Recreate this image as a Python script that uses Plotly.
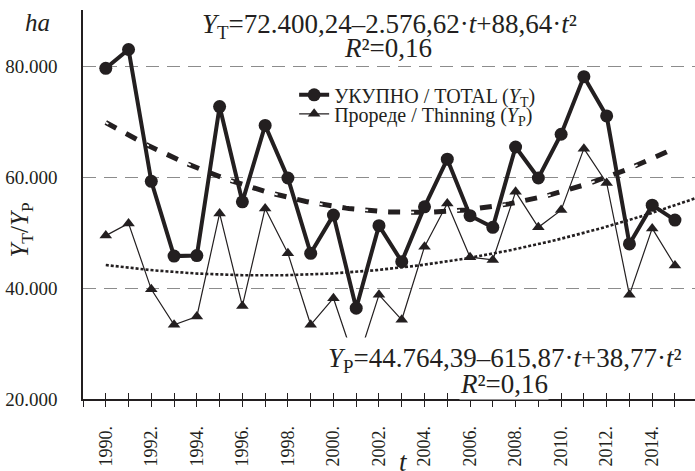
import numpy as np
import plotly.graph_objects as go

# Felled area by year (ha)
years = list(range(1990, 2016))
total = [79700, 83100, 59300, 45800, 45900, 72800, 55600, 69400, 59900, 46300,
         53200, 36400, 51300, 44800, 54700, 63300, 53100, 51000, 65500, 59900,
         67800, 78200, 71100, 48000, 55000, 52300]
thinning = [49500, 51700, 39800, 33400, 34900, 53500, 36800, 54400, 46300, 33400,
            38200, 26000, 38800, 34300, 47500, 55300, 45600, 45100, 57400, 51000,
            54100, 65200, 59000, 38800, 50800, 44100]

# Quadratic trend coefficients (a, b, c) for Y = a + b*t + c*t^2, t = 1 for 1990
coef_total = [72400.24, -2576.62, 88.64]
coef_thin = [44764.39, -615.87, 38.77]

x_labels = [str(y) + "." for y in range(1990, 2016, 2)]
y_ticks = [20000, 40000, 60000, 80000]
y_ticktext = ["20.000", "40.000", "60.000", "80.000"]

INK = "#231f20"
FONT = "Liberation Serif"

def quad(coef, t):
    t = np.asarray(t, dtype=float)
    return coef[0] + coef[1] * t + coef[2] * t ** 2

t_total = np.linspace(1, 26, 200)
t_thin = np.linspace(1, 27, 200)

fig = go.Figure()

# Trend of total felling: heavy dashes with light highlights
fig.add_trace(go.Scatter(x=t_total + 1989, y=quad(coef_total, t_total), mode="lines",
                         line=dict(color=INK, width=5, dash="12px,11px"),
                         showlegend=False, hoverinfo="skip"))
fig.add_trace(go.Scatter(x=t_total + 1989, y=quad(coef_total, t_total), mode="lines",
                         line=dict(color="white", width=1.8, dash="3px,43px"),
                         showlegend=False, hoverinfo="skip"))

# Trend of thinning: fine dotted line (drawn on the overlay axis with inner ticks)
fig.add_trace(go.Scatter(x=t_thin + 1989, y=quad(coef_thin, t_thin), mode="lines",
                         line=dict(color=INK, width=2.6, dash="3px,2px"),
                         xaxis="x2", showlegend=False, hoverinfo="skip"))

fig.add_trace(go.Scatter(x=years, y=total, mode="lines+markers",
                         name="УКУПНО / TOTAL (<i>Y</i><sub>T</sub>)",
                         line=dict(color=INK, width=4),
                         marker=dict(symbol="circle", size=13, color=INK),
                         legend="legend"))
fig.add_trace(go.Scatter(x=years, y=thinning, mode="lines+markers",
                         name="Прореде / Thinning (<i>Y</i><sub>P</sub>)",
                         line=dict(color=INK, width=1.2),
                         marker=dict(symbol="triangle-up", size=11, color=INK),
                         legend="legend2"))

tick_years = list(range(1989, 2017))
tick_text = [str(y) + "." if str(y) + "." in x_labels else "" for y in tick_years]
x_range = [1989, 2015.88]

annots = [
    dict(text="<i>Y</i><sub>T</sub>=72.400,24–2.576,62·<i>t</i>+88,64·<i>t</i>²",
         x=0.5, y=0.958, font=dict(size=27)),
    dict(text="<i>R</i>²=0,16", x=0.498, y=0.902, font=dict(size=27)),
    dict(text="<i>Y</i><sub>P</sub>=44.764,39–615,87·<i>t</i>+38,77·<i>t</i>²",
         x=0.69, y=0.1, font=dict(size=27), bgcolor="white", borderpad=5),
    dict(text="<i>R</i>²=0,16", x=0.688, y=0.038, font=dict(size=27),
         bgcolor="white", borderpad=0),
    dict(text="<i>ha</i>", x=-0.074, y=0.968, font=dict(size=25)),
    dict(text="<i>Y</i><sub>T</sub>/<i>Y</i><sub>P</sub>", x=-0.1, y=0.435,
         textangle=-90, font=dict(size=25)),
    dict(text="<i>t</i>", x=0.523, y=-0.163, font=dict(size=27)),
]
for a in annots:
    a.update(xref="paper", yref="paper", showarrow=False,
             xanchor="center", yanchor="middle")
    a["font"].update(family=FONT, color=INK)

fig.update_layout(
    width=695, height=471,
    margin=dict(l=83, r=0, t=10, b=72),
    paper_bgcolor="white", plot_bgcolor="white",
    font=dict(family=FONT, color=INK),
    xaxis=dict(range=x_range, tickmode="array", tickvals=tick_years, ticktext=tick_text,
               tickangle=-90, ticks="outside", ticklen=6, tickcolor=INK, tickwidth=1,
               ticklabelstandoff=12,
               tickfont=dict(size=18, family=FONT, color=INK),
               showgrid=False, zeroline=False, showline=True, linecolor=INK, linewidth=1.5),
    xaxis2=dict(range=x_range, overlaying="x", anchor="y", side="bottom",
                tickmode="array", tickvals=tick_years, ticks="inside", ticklen=6,
                tickcolor=INK, tickwidth=1, showticklabels=False, showgrid=False,
                zeroline=False, showline=False),
    yaxis=dict(range=[20000, 90230], tickmode="array", tickvals=y_ticks, ticktext=y_ticktext,
               ticks="", ticklabelstandoff=20,
               tickfont=dict(size=19, family=FONT, color=INK),
               showgrid=True, gridcolor="#8c8c8c", gridwidth=1, griddash="13px,8px",
               zeroline=False, showline=True, linecolor=INK, linewidth=1.5),
    legend=dict(x=0.345, y=0.782, xanchor="left", yanchor="middle",
                bgcolor="rgba(0,0,0,0)", font=dict(size=20, family=FONT, color=INK)),
    legend2=dict(x=0.345, y=0.733, xanchor="left", yanchor="middle",
                 bgcolor="rgba(0,0,0,0)", font=dict(size=20, family=FONT, color=INK)),
    annotations=annots,
)

fig.write_html("out.html")
